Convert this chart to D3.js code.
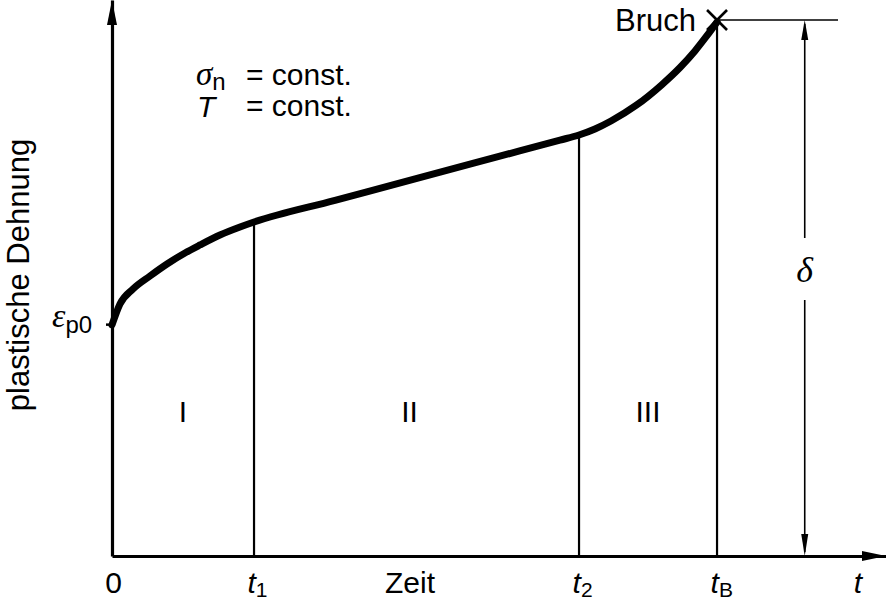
<!DOCTYPE html>
<html><head><meta charset="utf-8">
<script src="https://cdn.jsdelivr.net/npm/d3@7"></script>
<style>
body{margin:0;background:#fff}
svg{display:block}
text{font-family:"Liberation Sans",Arial,Helvetica,sans-serif;fill:#000}
.greek{font-family:"Liberation Serif","Times New Roman",serif;font-style:italic}
</style>
</head><body>
<svg id="c" width="886" height="602"></svg>
<script>
// ---- data (arbitrary units: time 0..10, strain 0..10) ----
const curveTime   = [0, 0.103, 0.271, 0.491, 0.711, 0.943, 1.137, 1.395, 1.654, 1.835,
                     2.881, 3.928, 4.987, 5.788, 6.034,
                     6.240, 6.447, 6.770, 7.106, 7.339, 7.532, 7.674, 7.817];
const curveStrain = [4.155, 4.532, 4.802, 5.036, 5.252, 5.450, 5.594, 5.773, 5.917, 6.007,
                     6.397, 6.788, 7.182, 7.480, 7.572,
                     7.680, 7.824, 8.103, 8.480, 8.786, 9.083, 9.335, 9.604];
const phaseTimes  = [0, 1.835, 6.034, 7.817];      // 0, t1, t2, tB
const tickMain    = ["0", "t", "t", "t"];
const tickSub     = ["", "1", "2", "B"];
const phaseLabels = ["I", "II", "III"];
const strain0     = 4.17;   // epsilon_p0
const strainBreak = 9.64;   // Bruch
const deltaTime   = 8.95;   // position of delta dimension line
const refEnd      = 9.38;   // end of Bruch reference line

const svg = d3.select("#c");
const x = d3.scaleLinear().domain([0, 10]).range([112, 886]);
const y = d3.scaleLinear().domain([0, 10]).range([556, 0]);

// ---- vertical phase lines ----
const curveFn = d3.scaleLinear().domain(curveTime).range(curveStrain);
svg.selectAll("line.phase").data(phaseTimes.slice(1)).join("line")
  .attr("class", "phase")
  .attr("x1", d => x(d)).attr("x2", d => x(d))
  .attr("y1", y(0)).attr("y2", (d, i) => i === 2 ? y(strainBreak) : y(curveFn(d)))
  .attr("stroke", "#000").attr("stroke-width", 2.2);

// ---- Bruch reference line ----
svg.append("line")
  .attr("x1", x(phaseTimes[3])).attr("x2", x(refEnd))
  .attr("y1", y(strainBreak)).attr("y2", y(strainBreak))
  .attr("stroke", "#000").attr("stroke-width", 1.5);

// ---- delta dimension line ----
const dx = x(deltaTime);
svg.append("line").attr("x1", dx).attr("x2", dx).attr("y1", y(strainBreak) + 4).attr("y2", 238)
  .attr("stroke", "#000").attr("stroke-width", 1.6);
svg.append("line").attr("x1", dx).attr("x2", dx).attr("y1", 300).attr("y2", y(0) - 4)
  .attr("stroke", "#000").attr("stroke-width", 1.6);
svg.append("path")
  .attr("d", `M${dx},${y(strainBreak)} L${dx - 3.5},${y(strainBreak) + 20} L${dx + 3.5},${y(strainBreak) + 20} Z`)
  .attr("fill", "#000");
svg.append("path")
  .attr("d", `M${dx},${y(0)} L${dx - 3.5},${y(0) - 22} L${dx + 3.5},${y(0) - 22} Z`)
  .attr("fill", "#000");
svg.append("text").attr("class", "greek").attr("x", dx).attr("y", 282)
  .attr("text-anchor", "middle").style("font-size", "36px").text("δ");

// ---- axes ----
const xAxis = svg.append("g").attr("transform", `translate(0,${y(0)})`)
  .call(d3.axisBottom(x).tickValues(phaseTimes).tickSize(0).tickSizeOuter(0).tickFormat(""));
xAxis.select(".domain").attr("stroke-width", 3.2).attr("stroke", "#000");
xAxis.selectAll(".tick text").remove();
xAxis.selectAll(".tick").each(function(d, i) {
  const t = d3.select(this).append("text")
    .attr("y", 37).attr("x", i === 0 ? 1 : -7)
    .attr("text-anchor", i === 0 ? "middle" : "start")
    .style("font-size", "30px").attr("fill", "#000");
  t.append("tspan").text(tickMain[i]).style("font-style", i === 0 ? "normal" : "italic");
  if (tickSub[i]) t.append("tspan").attr("dy", 4).style("font-size", "21px").text(tickSub[i]);
});
xAxis.append("text").attr("x", 410).attr("y", 37).attr("text-anchor", "middle")
  .style("font-size", "30px").attr("fill", "#000").text("Zeit");
xAxis.append("text").attr("x", 858).attr("y", 37).attr("text-anchor", "middle")
  .style("font-size", "30px").style("font-style", "italic").attr("fill", "#000").text("t");
svg.append("path").attr("d", `M886,${y(0)} L862,${y(0) - 5} L862,${y(0) + 5} Z`).attr("fill", "#000");

const yAxis = svg.append("g").attr("transform", `translate(${x(0)},0)`)
  .call(d3.axisLeft(y).tickValues([strain0]).tickSize(6).tickSizeOuter(0).tickFormat(""));
yAxis.select(".domain").attr("stroke-width", 3.2).attr("stroke", "#000");
yAxis.selectAll(".tick line").attr("stroke-width", 2.5).attr("stroke", "#000");
svg.append("path").attr("d", `M${x(0)},0 L${x(0) - 5},25 L${x(0) + 5},25 Z`).attr("fill", "#000");

// epsilon_p0 label
const eps = svg.append("text").attr("x", 52).attr("y", y(strain0) + 3);
eps.append("tspan").attr("class", "greek").style("font-size", "34px").text("ε");
eps.append("tspan").attr("dy", 6).style("font-size", "24px").text("p0");

// y-axis title
svg.append("text").attr("transform", "translate(29,275) rotate(-90)")
  .attr("text-anchor", "middle").style("font-size", "31px").text("plastische Dehnung");

// ---- creep curve ----
const pts = curveTime.map((t, i) => [t, curveStrain[i]]);
svg.append("path").datum(pts)
  .attr("d", d3.line().x(d => x(d[0])).y(d => y(d[1])).curve(d3.curveMonotoneX))
  .attr("fill", "none").attr("stroke", "#000").attr("stroke-width", 7).attr("stroke-linecap", "round");

// ---- Bruch marker ----
const bx = x(phaseTimes[3]), by = y(strainBreak);
svg.append("path").attr("d", `M${bx - 10},${by - 10} L${bx + 10},${by + 10} M${bx - 10},${by + 10} L${bx + 10},${by - 10}`)
  .attr("stroke", "#000").attr("stroke-width", 2.6).attr("fill", "none");
svg.append("text").attr("x", 696).attr("y", 31).attr("text-anchor", "end")
  .style("font-size", "31px").text("Bruch");

// ---- phase labels ----
svg.selectAll("text.phaseLabel").data(phaseLabels).join("text")
  .attr("class", "phaseLabel")
  .attr("x", (d, i) => (x(phaseTimes[i]) + x(phaseTimes[i + 1])) / 2 - (i === 1 ? 7 : 0))
  .attr("y", 422).attr("text-anchor", "middle").style("font-size", "30px").text(d => d);

// ---- conditions ----
const r1 = svg.append("text").attr("x", 196).attr("y", 85);
r1.append("tspan").attr("class", "greek").style("font-size", "33px").text("σ");
r1.append("tspan").attr("dy", 5).style("font-size", "24px").text("n");
svg.append("text").attr("x", 246).attr("y", 85).style("font-size", "30px").text("= const.");
svg.append("text").attr("x", 197).attr("y", 117).style("font-size", "30px").style("font-style", "italic").text("T");
svg.append("text").attr("x", 246).attr("y", 116).style("font-size", "30px").text("= const.");
</script>
</body></html>
